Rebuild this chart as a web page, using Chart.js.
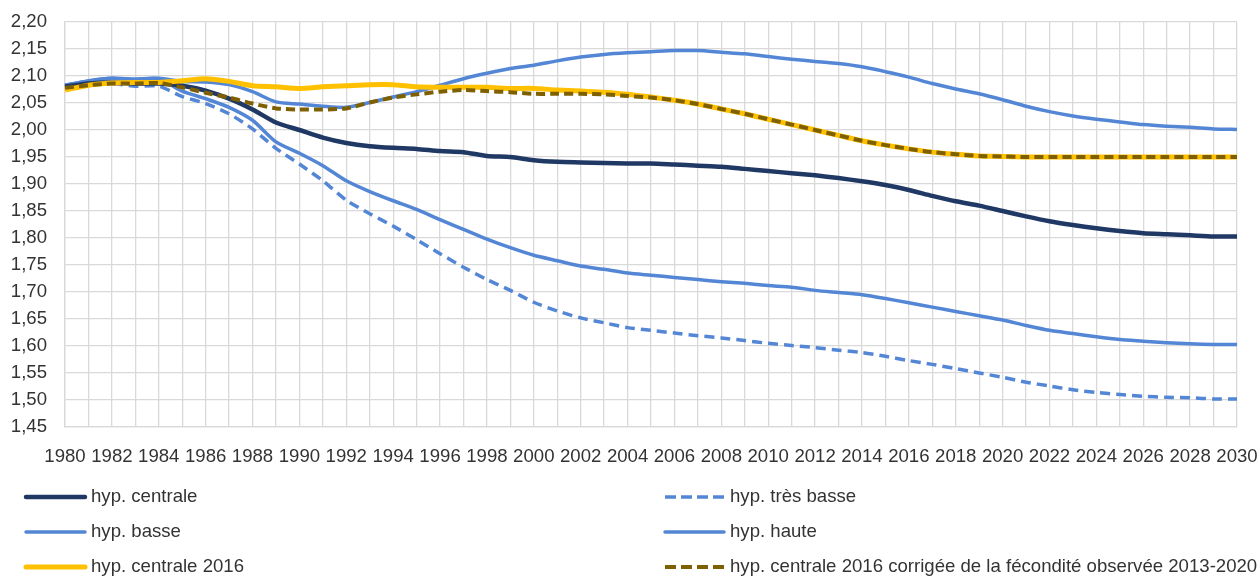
<!DOCTYPE html>
<html lang="fr">
<head>
<meta charset="utf-8">
<title>Indicateur conjoncturel de fécondité</title>
<script src="https://cdn.jsdelivr.net/npm/chart.js@4/dist/chart.umd.min.js"></script>
<style>
    body { margin: 0; background: #ffffff; }
    #lineChart { display: block; }
</style>
</head>
<body>
<canvas id="lineChart" width="1260" height="577"></canvas>
<script>
// Années (axe des abscisses)
var annees = [];
for (var a = 1980; a <= 2030; a++) {
    annees.push(String(a));
}

// Graduations de l'axe des ordonnées
var yMin = 1.45;
var yMax = 2.20;
var yPas = 0.05;

// Séries
var hypCentrale = [
    2.080, 2.086, 2.088, 2.086, 2.086, 2.082, 2.073, 2.058, 2.038, 2.014,
    2.000, 1.986, 1.976, 1.970, 1.967, 1.965, 1.961, 1.959, 1.952, 1.950,
    1.944, 1.941, 1.940, 1.939, 1.938, 1.938, 1.936, 1.934, 1.932, 1.928,
    1.924, 1.920, 1.916, 1.911, 1.905, 1.898, 1.889, 1.878, 1.868, 1.860,
    1.850, 1.840, 1.831, 1.824, 1.818, 1.813, 1.809, 1.807, 1.805, 1.803,
    1.803
];
var hypTresBasse = [
    2.080, 2.086, 2.086, 2.081, 2.081, 2.062, 2.049, 2.030, 2.002, 1.966,
    1.937, 1.906, 1.870, 1.845, 1.822, 1.797, 1.771, 1.746, 1.723, 1.703,
    1.681, 1.665, 1.652, 1.643, 1.634, 1.629, 1.624, 1.619, 1.615, 1.610,
    1.605, 1.601, 1.597, 1.592, 1.588, 1.581, 1.573, 1.566, 1.558, 1.550,
    1.542, 1.533, 1.526, 1.519, 1.514, 1.510, 1.507, 1.505, 1.504, 1.502,
    1.502
];
var hypBasse = [
    2.083, 2.091, 2.096, 2.094, 2.095, 2.072, 2.058, 2.042, 2.018, 1.978,
    1.957, 1.934, 1.906, 1.886, 1.869, 1.853, 1.834, 1.816, 1.798, 1.782,
    1.768, 1.758, 1.748, 1.742, 1.735, 1.731, 1.727, 1.723, 1.719, 1.716,
    1.712, 1.709, 1.703, 1.699, 1.695, 1.688, 1.680, 1.672, 1.664, 1.656,
    1.648, 1.638, 1.629, 1.623, 1.617, 1.612, 1.609, 1.606, 1.604, 1.603,
    1.603
];
var hypHaute = [
    2.083, 2.091, 2.096, 2.094, 2.096, 2.090, 2.089, 2.084, 2.071, 2.052,
    2.048, 2.044, 2.042, 2.051, 2.061, 2.071, 2.083, 2.095, 2.105, 2.114,
    2.120, 2.128, 2.135, 2.140, 2.143, 2.145, 2.147, 2.147, 2.144, 2.141,
    2.136, 2.131, 2.127, 2.123, 2.117, 2.108, 2.098, 2.086, 2.076, 2.067,
    2.056, 2.044, 2.034, 2.026, 2.020, 2.015, 2.010, 2.007, 2.005, 2.002,
    2.001
];
var hypCentrale2016 = [
    2.074, 2.083, 2.087, 2.088, 2.088, 2.091, 2.095, 2.090, 2.082, 2.080,
    2.077, 2.080, 2.082, 2.084, 2.084, 2.080, 2.079, 2.079, 2.079, 2.077,
    2.077, 2.074, 2.072, 2.070, 2.066, 2.061, 2.055, 2.048, 2.039, 2.030,
    2.020, 2.010, 2.000, 1.990, 1.980, 1.972, 1.965, 1.959, 1.955, 1.952,
    1.951, 1.950, 1.950, 1.950, 1.950, 1.950, 1.950, 1.950, 1.950, 1.950,
    1.950
];
var hypCorrigee = [
    2.078, 2.083, 2.086, 2.086, 2.087, 2.079, 2.069, 2.060, 2.049, 2.040,
    2.038, 2.038, 2.040, 2.051, 2.060, 2.066, 2.071, 2.074, 2.072, 2.070,
    2.067, 2.067, 2.067, 2.066, 2.063, 2.060, 2.055, 2.048, 2.039, 2.030,
    2.020, 2.010, 2.000, 1.990, 1.980, 1.972, 1.965, 1.959, 1.955, 1.952,
    1.951, 1.950, 1.950, 1.950, 1.950, 1.950, 1.950, 1.950, 1.950, 1.950,
    1.950
];

var police = '"Liberation Sans", Arial, sans-serif';
var couleurTexte = '#333333';

// Construction des jeux de données (order : plus petit = dessiné au-dessus)
var datasets = [
    { label: 'hyp. centrale', data: hypCentrale, borderColor: '#1F3864', borderWidth: 4.5, order: 2 },
    { label: 'hyp. très basse', data: hypTresBasse, borderColor: '#5486D6', borderWidth: 3.5, borderDash: [10, 6], order: 5 },
    { label: 'hyp. basse', data: hypBasse, borderColor: '#5486D6', borderWidth: 3.5, order: 4 },
    { label: 'hyp. haute', data: hypHaute, borderColor: '#5486D6', borderWidth: 3.5, order: 3 },
    { label: 'hyp. centrale 2016', data: hypCentrale2016, borderColor: '#FFC000', borderWidth: 5, order: 1 },
    { label: 'hyp. centrale 2016 corrigée de la fécondité observée 2013-2020', data: hypCorrigee, borderColor: '#7F6000', borderWidth: 4, borderDash: [9, 5], order: 0 }
];
datasets.forEach(function (ds) {
    ds.fill = false;
    ds.pointRadius = 0;
    ds.tension = 0.25;
    ds.borderCapStyle = 'butt';
});

// Légende sur deux colonnes, dessinée sous le graphique
var legendeDeuxColonnes = {
    id: 'legendeDeuxColonnes',
    afterDraw: function (chart) {
        var c = chart.ctx;
        var colonnes = [26, 665];
        var lignes = [497, 532, 567];
        c.save();
        c.font = '18.6px ' + police;
        c.textBaseline = 'middle';
        c.textAlign = 'left';
        chart.data.datasets.forEach(function (ds, i) {
            var x = colonnes[i % 2];
            var y = lignes[Math.floor(i / 2)];
            c.beginPath();
            c.strokeStyle = ds.borderColor;
            c.lineWidth = ds.borderWidth;
            c.lineCap = ds.borderDash ? 'butt' : 'round';
            c.setLineDash(ds.borderDash ? [11, 5] : []);
            c.moveTo(x, y);
            c.lineTo(x + 59, y);
            c.stroke();
            c.setLineDash([]);
            c.fillStyle = couleurTexte;
            c.fillText(ds.label, x + 65, y);
        });
        c.restore();
    }
};

var ctx = document.getElementById('lineChart').getContext('2d');

var myChart = new Chart(ctx, {
    type: 'line',
    data: {
        labels: annees,
        datasets: datasets
    },
    options: {
        responsive: false,
        animation: false,
        events: [],
        layout: {
            padding: { top: 22, right: 23, bottom: 110, left: 0 }
        },
        plugins: {
            legend: { display: false },
            tooltip: { enabled: false }
        },
        scales: {
            x: {
                grid: { color: '#D9D9D9', lineWidth: 1.3, drawTicks: false },
                border: { color: '#D9D9D9', width: 1.3 },
                ticks: {
                    autoSkip: false,
                    maxRotation: 0,
                    minRotation: 0,
                    padding: 19,
                    color: couleurTexte,
                    font: { family: police, size: 18.6 },
                    callback: function (value, index) {
                        return index % 2 === 0 ? annees[index] : '';
                    }
                },
                afterFit: function (scale) {
                    scale.height = 40;
                    scale.paddingLeft = 0;
                    scale.paddingRight = 0;
                }
            },
            y: {
                min: yMin,
                max: yMax,
                grid: { color: '#D9D9D9', lineWidth: 1.3, drawTicks: false },
                border: { color: '#D9D9D9', width: 1.3 },
                ticks: {
                    stepSize: yPas,
                    padding: 18,
                    color: couleurTexte,
                    font: { family: police, size: 18.6 },
                    callback: function (value) {
                        return value.toFixed(2).replace('.', ',');
                    }
                },
                afterFit: function (scale) {
                    scale.width = 65;
                    scale.paddingTop = 0;
                    scale.paddingBottom = 0;
                }
            }
        }
    },
    plugins: [legendeDeuxColonnes]
});
</script>
</body>
</html>
